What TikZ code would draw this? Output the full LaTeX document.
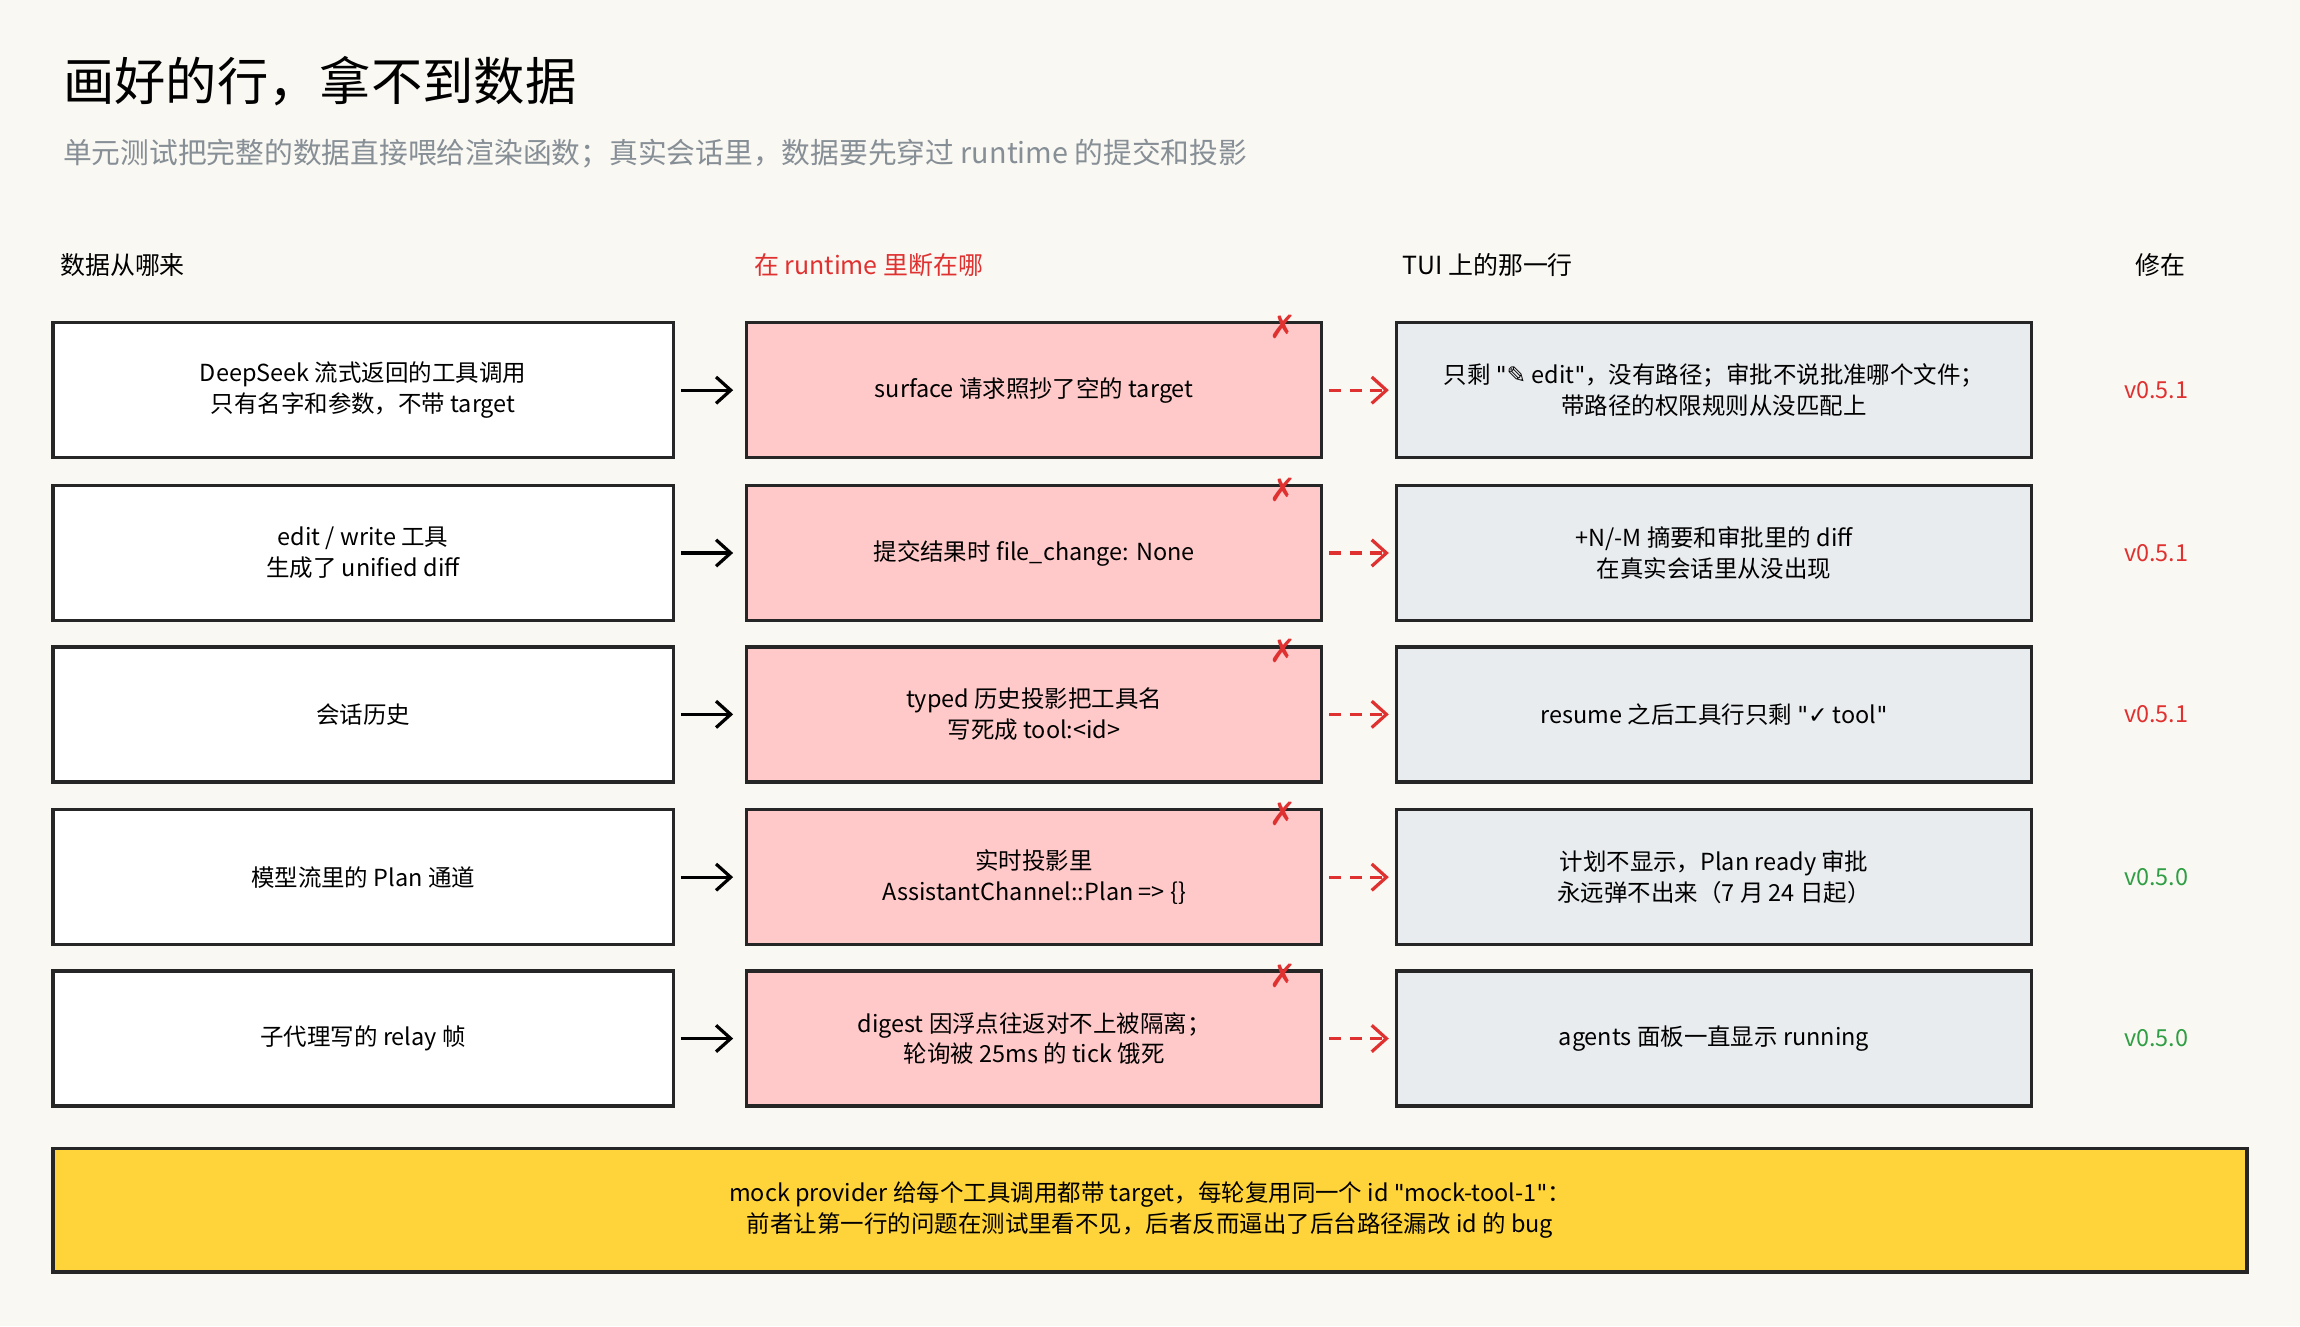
\documentclass[tikz,border=0pt]{standalone}
\usepackage{fontspec}
\setmainfont{Noto Sans CJK SC}
\newfontfamily\symf{DejaVu Sans}
\usetikzlibrary{arrows.meta}
\definecolor{bg}{HTML}{FAF8F2}
\definecolor{pinkf}{HTML}{FFC9C9}
\definecolor{grayf}{HTML}{E9ECEF}
\definecolor{yel}{HTML}{FFD43B}
\definecolor{rd}{HTML}{E03131}
\definecolor{gn}{HTML}{2F9E44}
\definecolor{sub}{HTML}{868E96}
\newcommand{\q}{{\symf"}}
\tikzset{
 box/.style={draw=black!85,line width=1.2pt,minimum width=211.5pt,minimum height=46pt,align=center,font=\fontsize{8}{10.5}\selectfont,inner sep=0pt},
 lb/.style={box,fill=white},
 mb/.style={box,fill=pinkf,minimum width=196pt},
 rb/.style={box,fill=grayf,minimum width=216.5pt},
 hd/.style={anchor=west,font=\fontsize{8.5}{10}\selectfont},
 ver/.style={font=\fontsize{8}{10}\selectfont},
 arr/.style={-{Straight Barb[length=5pt,width=9pt]},line width=1.1pt},
 darr/.style={arr,draw=rd,dash pattern=on 4pt off 3pt},
 xm/.style={text=rd,font=\symf\fontsize{11}{11}\selectfont\bfseries}
}
\begin{document}
\begin{tikzpicture}[x=0.5pt,y=-0.5pt]
\fill[bg] (0,0) rectangle (1568,904);
\useasboundingbox (0,0) rectangle (1568,904);
\node[anchor=west,font=\fontsize{17.5}{20}\selectfont] (title) at (36,55) {画好的行，拿不到数据};
\node[anchor=west,text=sub,font=\fontsize{9.8}{11}\selectfont] (subt) at (36,105) {单元测试把完整的数据直接喂给渲染函数；真实会话里，数据要先穿过 runtime 的提交和投影};
\node[hd] (h1) at (34,181) {数据从哪来};
\node[hd,text=rd] (h2) at (507,181) {在 runtime 里断在哪};
\node[hd] (h3) at (949,181) {TUI 上的那一行};
\node[hd] (h4) at (1449,181) {修在};
\foreach \i/\y/\a/\b/\c/\v/\vc in {
 1/266/{DeepSeek 流式返回的工具调用\\只有名字和参数，不带 target}/{surface 请求照抄了空的 target}/{只剩 \q{\symf ✎} edit\q，没有路径；审批不说批准哪个文件；\\带路径的权限规则从没匹配上}/v0.5.1/rd,
 2/377/{edit / write 工具\\生成了 unified diff}/{提交结果时 file\_change: None}/{+N/-M 摘要和审批里的 diff\\在真实会话里从没出现}/v0.5.1/rd,
 3/487/{会话历史}/{typed 历史投影把工具名\\写死成 tool:<id>}/{resume 之后工具行只剩 \q{\symf ✓} tool\q}/v0.5.1/rd,
 4/598/{模型流里的 Plan 通道}/{实时投影里\\AssistantChannel::Plan => \{\}}/{计划不显示，Plan ready 审批\\永远弹不出来（7 月 24 日起）}/v0.5.0/gn,
 5/708/{子代理写的 relay 帧}/{digest 因浮点往返对不上被隔离；\\轮询被 25ms 的 tick 饿死}/{agents 面板一直显示 running}/v0.5.0/gn}{
 \node[lb] (l\i) at (247.5,\y) {\a};
 \node[mb] (m\i) at (705,\y) {\b};
 \node[rb] (r\i) at (1168.5,\y) {\c};
 \node[ver,text=\vc] (v\i) at (1470,\y) {\v};
 \node[xm] (x\i) at (875,\y-43) {✗};
 \draw[arr] ([xshift=2pt]l\i.east) -- ([xshift=-4pt]m\i.west);
 \draw[darr] ([xshift=2pt]m\i.east) -- ([xshift=-2pt]r\i.west);
}
\node[box,fill=yel,minimum width=748pt,minimum height=42pt] (note) at (784,825) {mock provider 给每个工具调用都带 target，每轮复用同一个 id \q mock-tool-1\q：\\前者让第一行的问题在测试里看不见，后者反而逼出了后台路径漏改 id 的 bug};
\end{tikzpicture}
\end{document}
